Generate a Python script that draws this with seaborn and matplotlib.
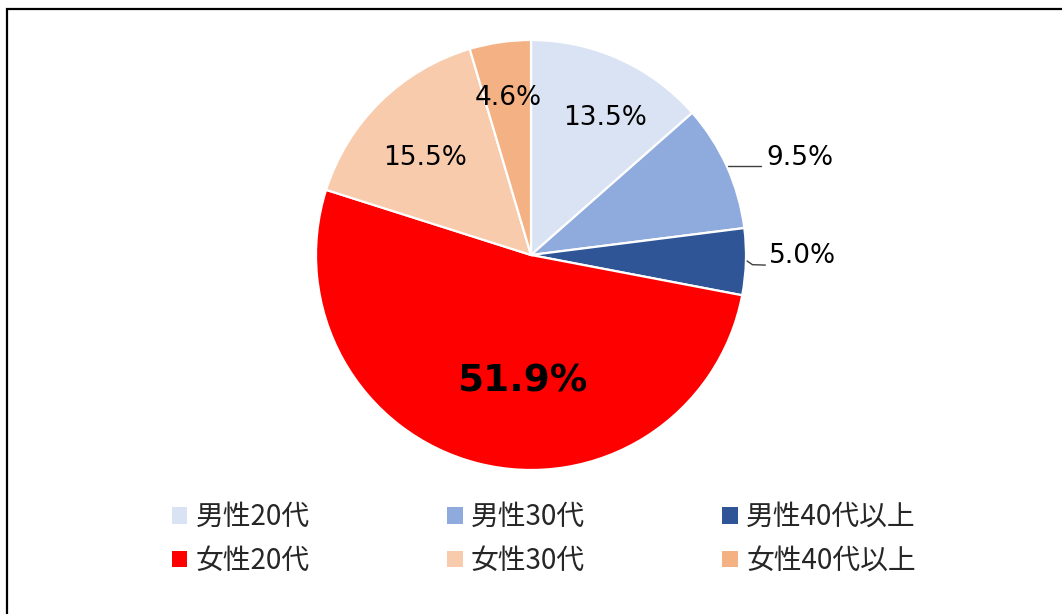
import matplotlib
matplotlib.use("Agg")
import matplotlib.pyplot as plt
import matplotlib.patches as mpatches
import numpy as np
import seaborn as sns

# data
labels = ["男性20代", "男性30代", "男性40代以上", "女性20代", "女性30代", "女性40代以上"]
shares = [13.5, 9.5, 5.0, 51.9, 15.5, 4.6]
colors = ["#DAE3F3", "#8FAADC", "#2F5597", "#FF0000", "#F8CBAD", "#F4B183"]
# label layout: radius factor inside the pie (None = outside) and small nudges
label_radius = [0.74, None, None, 0.58, 0.66, 0.74]
label_nudge = [(0.04, -0.035), (0, 0), (0, 0), (0.1, -0.025), (-0.03, -0.02), (0, 0)]

sns.set_theme(style="white")
plt.rcParams["font.family"] = ["DejaVu Sans", "Noto Sans CJK JP"]

fig = plt.figure(figsize=(10.62, 6.14), dpi=100)
W, H = 1062, 614
cx, cy, r = 531, 255, 215
ax = fig.add_axes([(cx - r) / W, (H - cy - r) / H, 2 * r / W, 2 * r / H])

palette = sns.color_palette(colors)
wedges, _ = ax.pie(shares, colors=palette, startangle=90, counterclock=False,
                   radius=1.0, wedgeprops=dict(edgecolor="white", linewidth=1.6))
ax.set_xlim(-1, 1)
ax.set_ylim(-1, 1)
ax.set_aspect("equal")
ax.axis("off")

for w, val, rad, (nx_, ny_) in zip(wedges, shares, label_radius, label_nudge):
    if rad is None:
        continue
    mid = np.deg2rad((w.theta1 + w.theta2) / 2)
    x, y = rad * np.cos(mid) + nx_, rad * np.sin(mid) + ny_
    txt = f"{val:.1f}%"
    if val > 50:
        ax.text(x, y, txt, ha="center", va="center", fontsize=27,
                fontweight="bold", color="black")
    else:
        ax.text(x, y, txt, ha="center", va="center", fontsize=19, color="black")

# outside labels with leader lines
ax.plot([0.916, 1.07], [0.414, 0.414], color="#404040", lw=1, clip_on=False)
ax.text(1.093, 0.452, f"{shares[1]:.1f}%", ha="left", va="center", fontsize=19,
        color="black", clip_on=False)
ax.plot([1.005, 1.03, 1.09], [-0.028, -0.045, -0.047], color="#404040", lw=1,
        clip_on=False)
ax.text(1.108, -0.005, f"{shares[2]:.1f}%", ha="left", va="center", fontsize=19,
        color="black", clip_on=False)

# legend, row-major order like the original
handles = [mpatches.Patch(facecolor=c, edgecolor="none") for c in palette]
order = [0, 3, 1, 4, 2, 5]
fig.legend([handles[i] for i in order], [labels[i] for i in order],
           ncol=3, loc="upper left", bbox_to_anchor=(172 / W, 1 - 502 / H),
           frameon=False, handlelength=0.55, handleheight=0.55,
           handletextpad=0.3, columnspacing=4.95, labelspacing=0.5,
           borderpad=0, borderaxespad=0,
           prop={"family": ["Noto Sans CJK JP"], "size": 20})

# chart frame (cropped on the right and bottom)
fig.patches.append(mpatches.Rectangle((7 / W, -0.1), 1.2, 1 - 9 / H + 0.1,
                                      transform=fig.transFigure, fill=False,
                                      edgecolor="black", linewidth=1.6))

fig.savefig("out.png", dpi=100)
